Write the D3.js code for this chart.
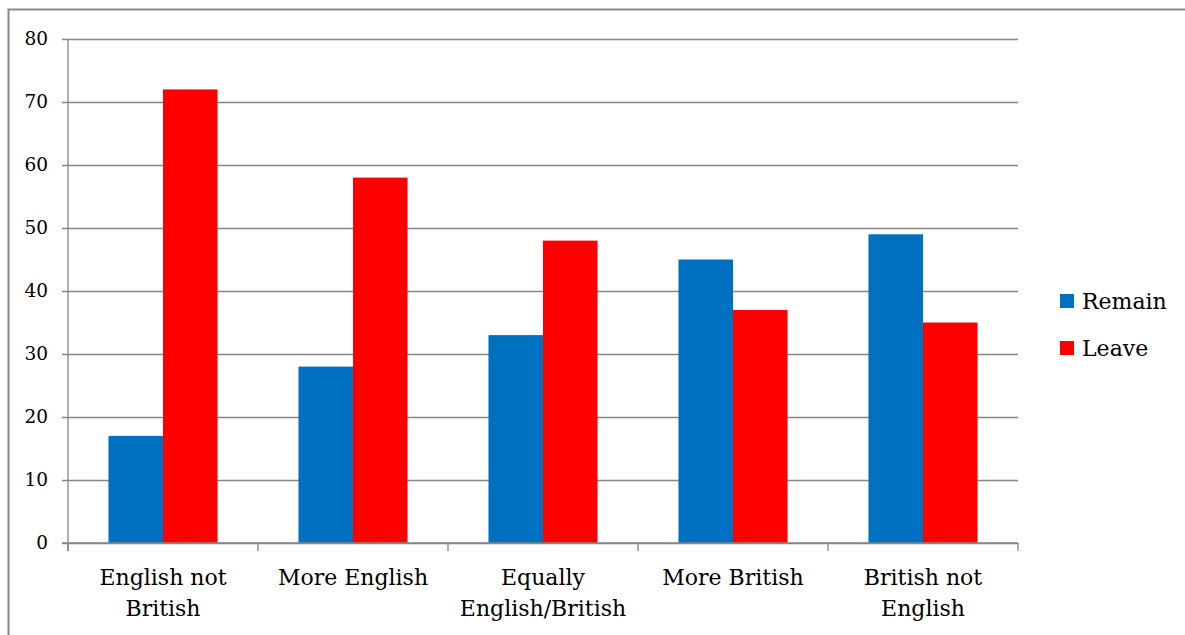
<!DOCTYPE html>
<html>
<head>
<meta charset="utf-8">
<script src="https://cdn.jsdelivr.net/npm/d3@7"></script>
<style>
  html, body { margin: 0; padding: 0; background: #fff; }
  svg { display: block; }
  text { font-family: "DejaVu Serif", "Liberation Serif", serif; fill: #000; }
</style>
</head>
<body>
<svg id="chart" width="1185" height="635"></svg>
<script>
// Brexit vote by national identity (%)
const categories = [
  ["English not", "British"],
  ["More English"],
  ["Equally", "English/British"],
  ["More British"],
  ["British not", "English"]
];
const seriesNames = ["Remain", "Leave"];
const remainValues = [17, 28, 33, 45, 49];
const leaveValues = [72, 58, 48, 37, 35];
const yTicks = [0, 10, 20, 30, 40, 50, 60, 70, 80];
const colors = ["#0070C0", "#FF0000"];

const svg = d3.select("#chart");
const plot = { left: 68, right: 1018, top: 39, bottom: 543 };

// outer frame
svg.append("rect")
  .attr("x", 8.5).attr("y", 9.5)
  .attr("width", 1185).attr("height", 640)
  .attr("fill", "none").attr("stroke", "#888").attr("stroke-width", 2);

const catIdx = categories.map((_, i) => i);
const x0 = d3.scaleBand().domain(catIdx).range([plot.left, plot.right]).paddingInner(0).paddingOuter(0);
const y = d3.scaleLinear().domain([0, 80]).range([plot.bottom, plot.top]);
const groupWidth = x0.bandwidth() * 0.574;
const x1 = d3.scaleBand().domain(seriesNames).range([0, groupWidth]);

// gridlines and y axis
const yAxis = d3.axisLeft(y).tickValues(yTicks).tickSize(plot.right - plot.left + 6).tickPadding(14);
const gy = svg.append("g").attr("transform", `translate(${plot.right},0)`).call(yAxis);
gy.select(".domain").remove();
gy.selectAll(".tick line").attr("stroke", "#868686").attr("stroke-width", 1.3);
gy.selectAll(".tick text").attr("font-size", 18.5).attr("x", -(plot.right - plot.left) - 20)
  .style("font-family", "'DejaVu Serif', serif");

// y axis line
svg.append("line")
  .attr("x1", plot.left).attr("x2", plot.left)
  .attr("y1", plot.top).attr("y2", plot.bottom + 8)
  .attr("stroke", "#868686").attr("stroke-width", 1.3);

// bars
const data = [remainValues, leaveValues];
seriesNames.forEach((name, s) => {
  svg.append("g").selectAll("rect")
    .data(data[s])
    .join("rect")
    .attr("x", (d, i) => x0(i) + (x0.bandwidth() - groupWidth) / 2 + x1(name))
    .attr("y", d => y(d))
    .attr("width", x1.bandwidth())
    .attr("height", d => y(0) - y(d))
    .attr("fill", colors[s]);
});

// x axis
const xb = d3.scaleLinear().domain([0, categories.length]).range([plot.left, plot.right]);
const gx = svg.append("g");
gx.append("line")
  .attr("x1", plot.left - 6).attr("x2", plot.right)
  .attr("y1", plot.bottom).attr("y2", plot.bottom)
  .attr("stroke", "#868686").attr("stroke-width", 1.3);
gx.selectAll("line.tk")
  .data(d3.range(categories.length + 1))
  .join("line").attr("class", "tk")
  .attr("x1", d => xb(d)).attr("x2", d => xb(d))
  .attr("y1", plot.bottom).attr("y2", plot.bottom + 8)
  .attr("stroke", "#868686").attr("stroke-width", 1.3);

const labels = gx.selectAll("text.cat")
  .data(categories)
  .join("text").attr("class", "cat")
  .attr("text-anchor", "middle")
  .attr("font-size", 22);
labels.each(function(lines, i) {
  const t = d3.select(this);
  lines.forEach((ln, k) => {
    t.append("tspan")
      .attr("x", x0(i) + x0.bandwidth() / 2)
      .attr("y", 585 + k * 31)
      .text(ln);
  });
});

// legend
const legend = svg.append("g");
seriesNames.forEach((name, s) => {
  const ly = 301 + s * 47;
  legend.append("rect")
    .attr("x", 1060).attr("y", ly - 7)
    .attr("width", 14).attr("height", 14)
    .attr("fill", colors[s]);
  legend.append("text")
    .attr("x", 1082).attr("y", ly + 8)
    .attr("font-size", 22)
    .text(name);
});
</script>
</body>
</html>
